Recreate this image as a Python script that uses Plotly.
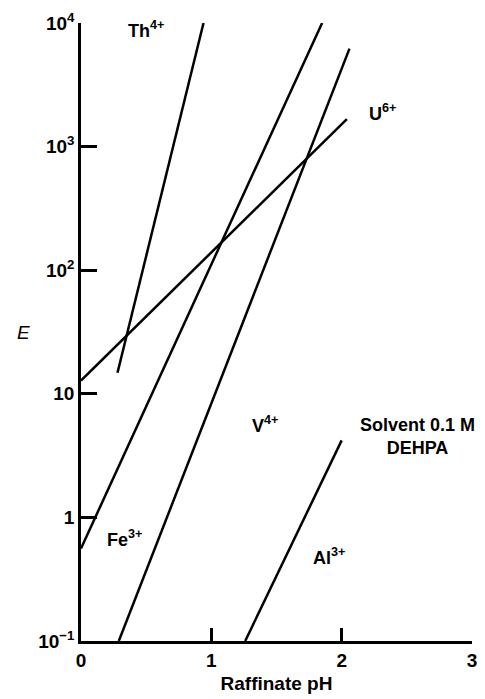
import math
import plotly.graph_objects as go

# Line endpoints (pH, E)
ph_Th = [0.28, 0.94]
E_Th = [14.8, 10000]
ph_U = [0.0, 2.04]
E_U = [12.8, 1670]
ph_Fe = [0.0, 1.85]
E_Fe = [0.56, 10000]
ph_V = [0.29, 2.06]
E_V = [0.1, 6200]
ph_Al = [1.26, 2.0]
E_Al = [0.1, 4.2]

x_ticks = [0, 1, 2, 3]
x_ticktext = ["<b>0</b>", "<b>1</b>", "<b>2</b>", "<b>3</b>"]
y_ticks = [0.1, 1, 10, 100, 1000, 10000]
y_ticktext = ["<b>10<sup>−1</sup></b>", "<b>1</b>", "<b>10</b>", "<b>10<sup>2</sup></b>",
              "<b>10<sup>3</sup></b>", "<b>10<sup>4</sup></b>"]

# Label texts and their positions (pH, E)
labels = ["Th<sup>4+</sup>", "U<sup>6+</sup>", "V<sup>4+</sup>", "Fe<sup>3+</sup>", "Al<sup>3+</sup>",
          "Solvent 0.1 M<br>DEHPA"]
label_x = [0.50, 2.31, 1.41, 0.33, 1.90, 2.58]
label_E = [8900, 1900, 5.6, 0.68, 0.48, 4.5]

FONT = "Liberation Sans, Arial, Helvetica, sans-serif"

fig = go.Figure()
for xs, ys in [(ph_Th, E_Th), (ph_U, E_U), (ph_Fe, E_Fe), (ph_V, E_V), (ph_Al, E_Al)]:
    fig.add_trace(go.Scatter(x=xs, y=ys, mode="lines",
                             line=dict(color="black", width=2.5),
                             showlegend=False, hoverinfo="skip", cliponaxis=False))

for t, lx, ly in zip(labels, label_x, label_E):
    fig.add_annotation(x=lx, y=math.log10(ly), text="<b>" + t + "</b>", showarrow=False,
                       font=dict(family=FONT, size=18, color="black"), align="center")

fig.add_annotation(xref="paper", yref="paper", x=-0.169, y=0.50, text="<i>E</i>",
                   showarrow=False, font=dict(family=FONT, size=19, color="black"))

# The page body has an 8px margin, so the figure is sized to fill the rest of the window.
fig.update_layout(
    width=477, height=691,
    margin=dict(l=73, r=13, t=15, b=58),
    paper_bgcolor="white", plot_bgcolor="white",
    font=dict(family=FONT, size=18, color="black"),
    xaxis=dict(range=[0, 3], tickvals=x_ticks, ticktext=x_ticktext, automargin=False,
               showline=True, linecolor="black", linewidth=2.5,
               ticks="inside", ticklen=13, tickwidth=2.5, tickcolor="black",
               showgrid=False, zeroline=False, tickfont=dict(size=19),
               title=dict(text="<b>Raffinate pH</b>", font=dict(size=19), standoff=8)),
    yaxis=dict(type="log", range=[-1, 4], tickvals=y_ticks, ticktext=y_ticktext, automargin=False,
               showline=True, linecolor="black", linewidth=2.5,
               ticks="inside", ticklen=16, tickwidth=2.5, tickcolor="black",
               showgrid=False, zeroline=False, tickfont=dict(size=19)),
)

fig.write_html("out.html")
